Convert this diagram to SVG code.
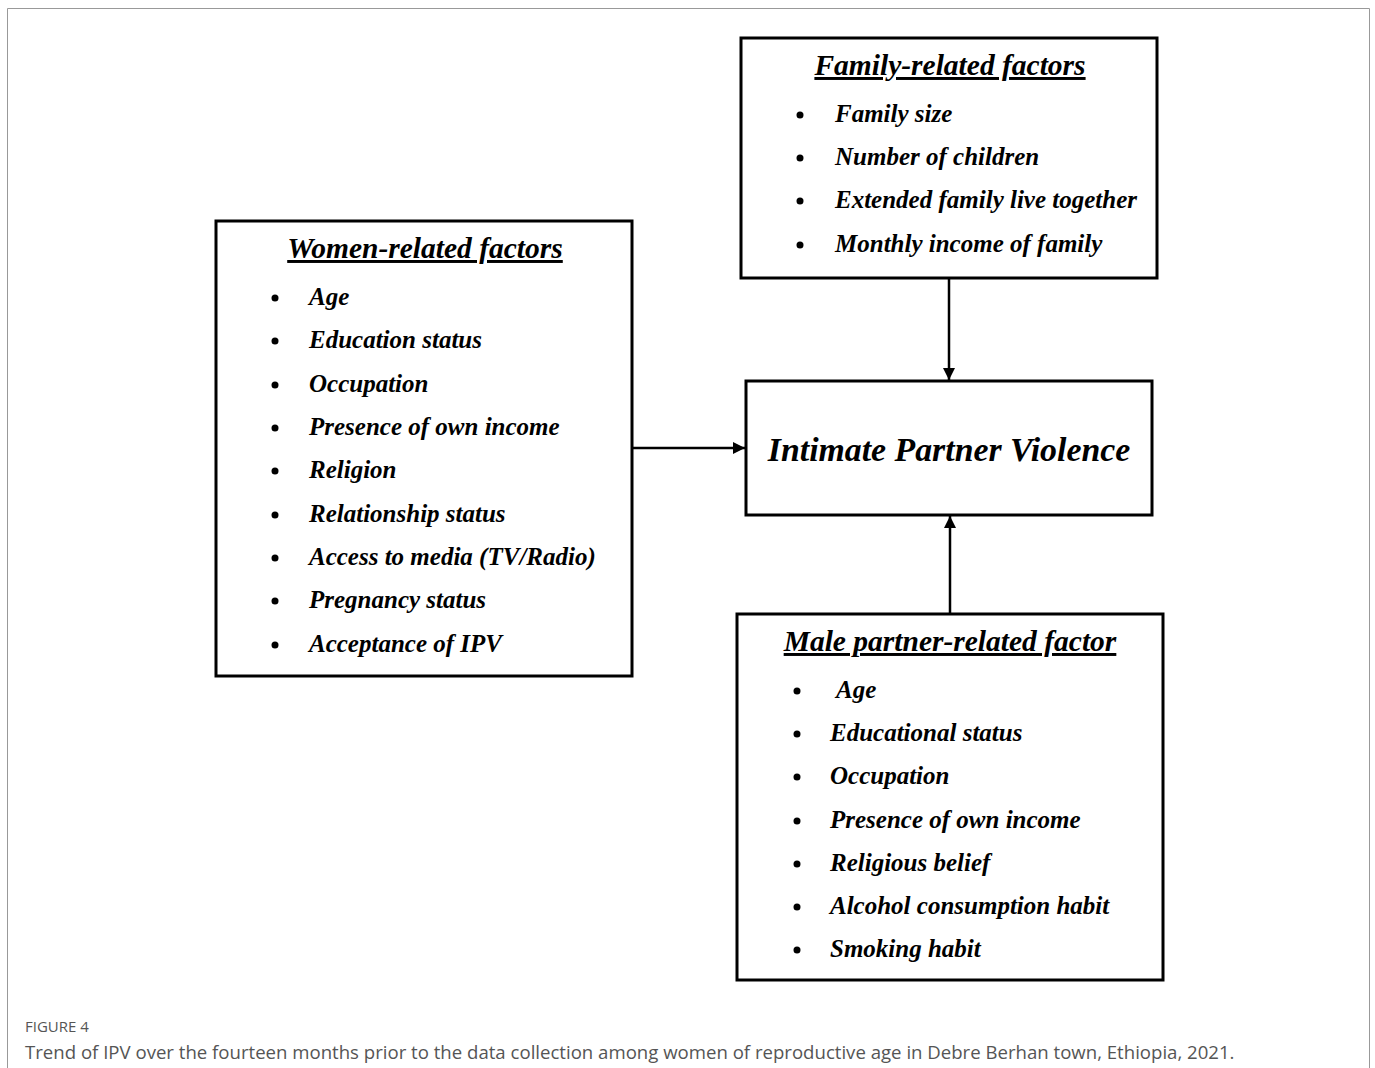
<svg xmlns="http://www.w3.org/2000/svg" width="1375" height="1068" viewBox="0 0 1375 1068">
<style>
.box{fill:#fff;stroke:#000;stroke-width:3}
.hd{font-family:"Liberation Serif","Times New Roman",serif;font-weight:bold;font-style:italic;font-size:29.5px;text-decoration:underline;fill:#000}
.it{font-family:"Liberation Serif","Times New Roman",serif;font-weight:bold;font-style:italic;font-size:25px;fill:#000}
.ipv{font-family:"Liberation Serif","Times New Roman",serif;font-weight:bold;font-style:italic;font-size:33.8px;fill:#000}
.bul{fill:#000}
.con{stroke:#000;stroke-width:2.5;fill:none}
.cap1{font-family:"Open Sans","Liberation Sans",sans-serif;font-size:15px;fill:#555}
.cap2{font-family:"Open Sans","Liberation Sans",sans-serif;font-size:18.6px;fill:#555}
</style>
<defs>
<marker id="ah" viewBox="0 0 12 12" refX="12" refY="6" markerWidth="12" markerHeight="12" markerUnits="userSpaceOnUse" orient="auto">
<path d="M0,0 L12,6 L0,12 z" fill="#000"/>
</marker>
</defs>
<rect width="1375" height="1068" fill="#fff"/>
<path d="M7.5,1068 V8.5 H1369.5 V1068" fill="none" stroke="#999" stroke-width="1"/>

<g id="family">
<rect class="box" x="741" y="38" width="416" height="240"/>
<text class="hd" x="950" y="75" text-anchor="middle">Family-related factors</text>
<circle class="bul" cx="800" cy="115" r="3.5"/><text class="it" x="835" y="122">Family size</text>
<circle class="bul" cx="800" cy="158" r="3.5"/><text class="it" x="835" y="165">Number of children</text>
<circle class="bul" cx="800" cy="201" r="3.5"/><text class="it" x="835" y="208">Extended family live together</text>
<circle class="bul" cx="800" cy="245" r="3.5"/><text class="it" x="835" y="252">Monthly income of family</text>
</g>

<g id="women">
<rect class="box" x="216" y="221" width="416" height="455"/>
<text class="hd" x="425" y="258" text-anchor="middle">Women-related factors</text>
<circle class="bul" cx="275" cy="298" r="3.5"/><text class="it" x="309" y="305">Age</text>
<circle class="bul" cx="275" cy="341" r="3.5"/><text class="it" x="309" y="348">Education status</text>
<circle class="bul" cx="275" cy="385" r="3.5"/><text class="it" x="309" y="392">Occupation</text>
<circle class="bul" cx="275" cy="428" r="3.5"/><text class="it" x="309" y="435">Presence of own income</text>
<circle class="bul" cx="275" cy="471" r="3.5"/><text class="it" x="309" y="478">Religion</text>
<circle class="bul" cx="275" cy="515" r="3.5"/><text class="it" x="309" y="522">Relationship status</text>
<circle class="bul" cx="275" cy="558" r="3.5"/><text class="it" x="309" y="565">Access to media (TV/Radio)</text>
<circle class="bul" cx="275" cy="601" r="3.5"/><text class="it" x="309" y="608">Pregnancy status</text>
<circle class="bul" cx="275" cy="645" r="3.5"/><text class="it" x="309" y="652">Acceptance of IPV</text>
</g>

<g id="ipv">
<rect class="box" x="746" y="381" width="406" height="134"/>
<text class="ipv" x="949" y="461" text-anchor="middle">Intimate Partner Violence</text>
</g>

<g id="male">
<rect class="box" x="737" y="614" width="426" height="366"/>
<text class="hd" x="950" y="651" text-anchor="middle">Male partner-related factor</text>
<circle class="bul" cx="797" cy="691" r="3.5"/><text class="it" x="836" y="698">Age</text>
<circle class="bul" cx="797" cy="734" r="3.5"/><text class="it" x="830" y="741">Educational status</text>
<circle class="bul" cx="797" cy="777" r="3.5"/><text class="it" x="830" y="784">Occupation</text>
<circle class="bul" cx="797" cy="821" r="3.5"/><text class="it" x="830" y="828">Presence of own income</text>
<circle class="bul" cx="797" cy="864" r="3.5"/><text class="it" x="830" y="871">Religious belief</text>
<circle class="bul" cx="797" cy="907" r="3.5"/><text class="it" x="830" y="914">Alcohol consumption habit</text>
<circle class="bul" cx="797" cy="950" r="3.5"/><text class="it" x="830" y="957">Smoking habit</text>
</g>

<g id="connectors">
<line class="con" x1="949" y1="279" x2="949" y2="380" marker-end="url(#ah)"/>
<line class="con" x1="633" y1="448" x2="745" y2="448" marker-end="url(#ah)"/>
<line class="con" x1="950" y1="613" x2="950" y2="516" marker-end="url(#ah)"/>
</g>

<text class="cap1" x="25" y="1032">FIGURE 4</text>
<text class="cap2" x="25" y="1059">Trend of IPV over the fourteen months prior to the data collection among women of reproductive age in Debre Berhan town, Ethiopia, 2021.</text>
</svg>
